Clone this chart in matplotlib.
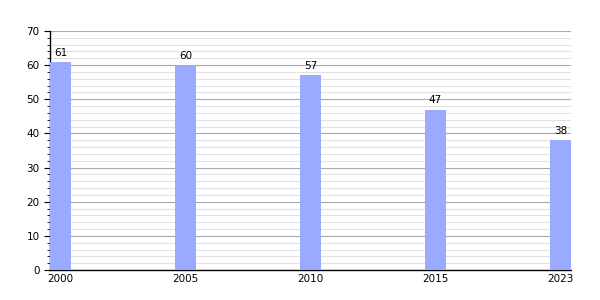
import numpy as np
import matplotlib.pyplot as plt
from matplotlib.ticker import MultipleLocator

years = ["2000", "2005", "2010", "2015", "2023"]
values = [61, 60, 57, 47, 38]

fig = plt.figure(figsize=(6, 3), dpi=100)
ax = fig.add_axes([0.0833, 0.1, 0.8684, 0.7967])

x = np.arange(len(years))
w = 0.168
ax.bar(x, values, width=w, color="#99aaff", zorder=3)
for xi, v in zip(x, values):
    ax.text(xi, v + 1.2, str(v), ha="center", va="bottom", fontsize=7.5)

ax.set_xlim(-w / 2, len(years) - 1 + w / 2)
ax.set_ylim(0, 70)
ax.set_xticks(x)
ax.set_xticklabels(years, fontsize=7.5)
ax.tick_params(axis="x", length=0, pad=3)
ax.yaxis.set_major_locator(MultipleLocator(10))
ax.yaxis.set_minor_locator(MultipleLocator(2))
ax.tick_params(axis="y", which="major", labelsize=7.5, length=4, direction="out")
ax.tick_params(axis="y", which="minor", length=2)
ax.grid(axis="y", which="major", color="#aaaaaa", linewidth=0.8, zorder=0)
ax.grid(axis="y", which="minor", color="#e2e2e2", linewidth=0.8, zorder=0)
for s in ["top", "right"]:
    ax.spines[s].set_visible(False)
ax.spines["left"].set_linewidth(1)
ax.spines["bottom"].set_linewidth(1)

fig.savefig("out.png", dpi=100)
